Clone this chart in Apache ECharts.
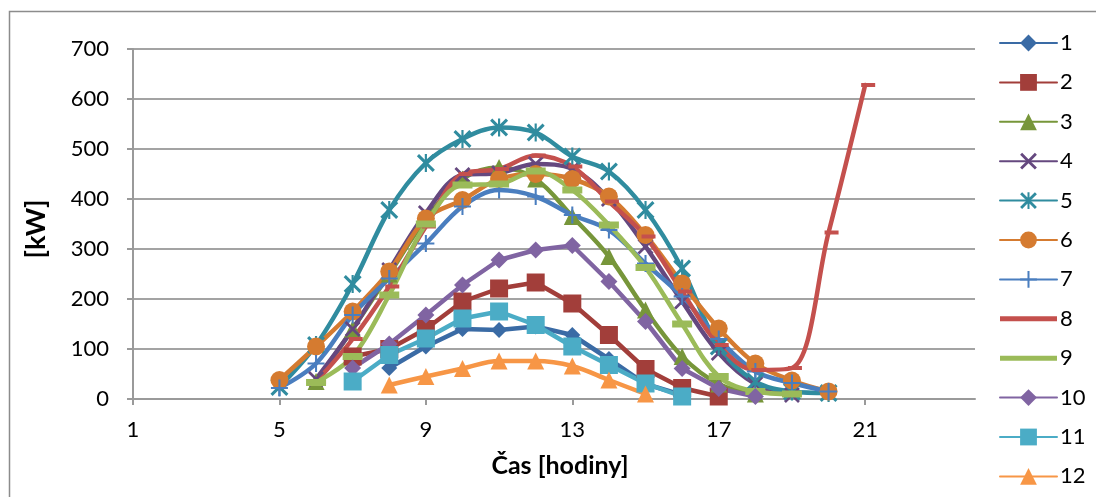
<!DOCTYPE html>
<html>
<head>
<meta charset="utf-8">
<script src="https://cdn.jsdelivr.net/npm/echarts@6/dist/echarts.min.js"></script>
<style>
  html, body { margin: 0; padding: 0; background: #fff; }
  #chart { width: 1096px; height: 497px; }
</style>
</head>
<body>
<div id="chart"></div>
<script>
// Hour categories along the time axis
const hours = ['1','2','3','4','5','6','7','8','9','10','11','12','13','14','15','16','17','18','19','20','21','22','23','24'];
const yTicks = [0, 100, 200, 300, 400, 500, 600, 700];
const seriesNames = ['1','2','3','4','5','6','7','8','9','10','11','12'];

// Power in kW per hour (index 0 = hour 1)
const s1  = [null,null,null,null,null,null,null,62,105,140,138,145,128,80,30,8,null,null,null,null,null,null,null,null];
const s2  = [null,null,null,null,null,null,85,100,140,195,221,233,191,128,60,22,5,null,null,null,null,null,null,null];
const s3  = [null,null,null,null,null,35,140,250,360,440,463,440,365,285,178,85,30,10,null,null,null,null,null,null];
const s4  = [null,null,null,null,null,40,140,258,372,448,452,470,460,400,305,195,92,30,8,null,null,null,null,null];
const s5  = [null,null,null,null,24,108,230,378,472,520,543,533,485,455,378,261,105,35,15,12,null,null,null,null];
const s6  = [null,null,null,null,38,105,175,255,361,398,440,450,440,405,328,231,141,71,37,15,null,null,null,null];
const s7  = [null,null,null,null,22,71,168,241,311,385,418,405,368,338,271,205,120,55,32,15,null,null,null,null];
const s8  = [null,null,null,null,null,34,120,225,345,450,460,487,465,395,325,215,108,58,62,333,628,null,null,null];
const s9  = [null,null,null,null,null,33,85,208,350,428,430,456,418,348,263,150,45,15,10,null,null,null,null,null];
const s10 = [null,null,null,null,null,null,62,110,168,228,278,298,307,235,155,61,21,5,null,null,null,null,null,null];
const s11 = [null,null,null,null,null,null,35,88,121,161,175,148,105,68,31,5,null,null,null,null,null,null,null,null];
const s12 = [null,null,null,null,null,null,null,28,45,61,76,76,66,38,10,null,null,null,null,null,null,null,null,null];

const seriesData = [s1, s2, s3, s4, s5, s6, s7, s8, s9, s10, s11, s12];
const colors = ['#3A6BA5','#A23E3A','#77963A','#65487F','#308C9F','#D57B30',
                '#4A7EBF','#C4504D','#9BBB59','#8064A2','#4BACC6','#F79646'];

// Marker shapes
const xMark = 'path://M0,1.2 L1.2,0 L5,3.8 L8.8,0 L10,1.2 L6.2,5 L10,8.8 L8.8,10 L5,6.2 L1.2,10 L0,8.8 L3.8,5 Z';
const starMark = xMark + ' M4.4,0 L5.6,0 L5.6,10 L4.4,10 Z';
const plusMark = 'path://M4.4,0 L5.6,0 L5.6,4.4 L10,4.4 L10,5.6 L5.6,5.6 L5.6,10 L4.4,10 L4.4,5.6 L0,5.6 L0,4.4 L4.4,4.4 Z';
const lineIcon = 'path://M0,0 L57,0 L57,5 L0,5 Z';

const markers = [
  { symbol: 'diamond', size: 16 },
  { symbol: 'rect', size: 18 },
  { symbol: 'triangle', size: 17 },
  { symbol: xMark, size: 16 },
  { symbol: starMark, size: 18 },
  { symbol: 'circle', size: 18 },
  { symbol: plusMark, size: 17 },
  { symbol: 'rect', size: [14, 4], offset: [3, 0] },
  { symbol: 'rect', size: [20, 7] },
  { symbol: 'diamond', size: 17 },
  { symbol: 'rect', size: 18 },
  { symbol: 'triangle', size: 17 }
];
const smoothing = [false, false, 0.35, 0.35, 0.35, 0.35, 0.35, 0.35, 0.35, false, false, 0.35];

const series = seriesNames.map((name, i) => ({
  name: name,
  type: 'line',
  data: seriesData[i],
  smooth: smoothing[i],
  symbol: markers[i].symbol,
  symbolSize: markers[i].size,
  symbolOffset: markers[i].offset || [0, 0],
  showAllSymbol: true,
  connectNulls: false,
  lineStyle: { color: colors[i], width: 4.5, cap: 'round', join: 'round' },
  itemStyle: { color: colors[i], borderWidth: 0 },
  emphasis: { disabled: true }
}));

const legendData = seriesNames.map((name, i) =>
  (i === 7 || i === 8) ? { name: name, icon: lineIcon } : { name: name });

const chart = echarts.init(document.getElementById('chart'), null, { renderer: 'canvas' });
chart.setOption({
  animation: false,
  backgroundColor: '#ffffff',
  color: colors,
  textStyle: { fontFamily: 'Lato' },
  grid: { left: 133, right: 121, top: 49, bottom: 98, containLabel: false },
  xAxis: {
    type: 'category',
    data: hours,
    boundaryGap: false,
    axisLine: { show: true, lineStyle: { color: '#9a9a9a', width: 2 } },
    axisTick: { show: true, interval: 3, length: 6, lineStyle: { color: '#9a9a9a', width: 2 } },
    axisLabel: { interval: 3, margin: 20, fontSize: 22, color: '#000', fontFamily: 'Lato' },
    splitLine: { show: false }
  },
  yAxis: {
    type: 'value',
    min: yTicks[0],
    max: yTicks[yTicks.length - 1],
    interval: 100,
    axisLine: { show: true, lineStyle: { color: '#9a9a9a', width: 2 } },
    axisTick: { show: true, length: 6, lineStyle: { color: '#9a9a9a', width: 2 } },
    axisLabel: { margin: 24, fontSize: 22, color: '#000', fontFamily: 'Lato' },
    splitLine: { show: true, lineStyle: { color: '#a3a3a3', width: 2 } }
  },
  legend: {
    orient: 'vertical',
    left: 999,
    top: 32,
    padding: 0,
    itemWidth: 57,
    itemHeight: 21,
    itemGap: 17.4,
    data: legendData,
    textStyle: { fontSize: 22, lineHeight: 21, color: '#000', fontFamily: 'Lato', padding: [0, 0, 0, -2] },
    selectedMode: false
  },
  graphic: [
    {
      type: 'rect',
      silent: true,
      shape: { x: 9.5, y: 11.5, width: 1100, height: 500 },
      style: { fill: 'none', stroke: '#8c8c8c', lineWidth: 1.5 }
    },
    {
      type: 'text',
      silent: true,
      x: 36, y: 229,
      rotation: Math.PI / 2,
      style: {
        text: '[kW]', fontSize: 27, fontWeight: 'bold', fontFamily: 'Lato',
        fill: '#000', align: 'center', verticalAlign: 'middle'
      }
    },
    {
      type: 'text',
      silent: true,
      x: 560, y: 466,
      style: {
        text: 'Čas [hodiny]', fontSize: 25, fontWeight: 'bold', fontFamily: 'Lato',
        fill: '#000', align: 'center', verticalAlign: 'middle'
      }
    }
  ],
  series: series
});
</script>
</body>
</html>
